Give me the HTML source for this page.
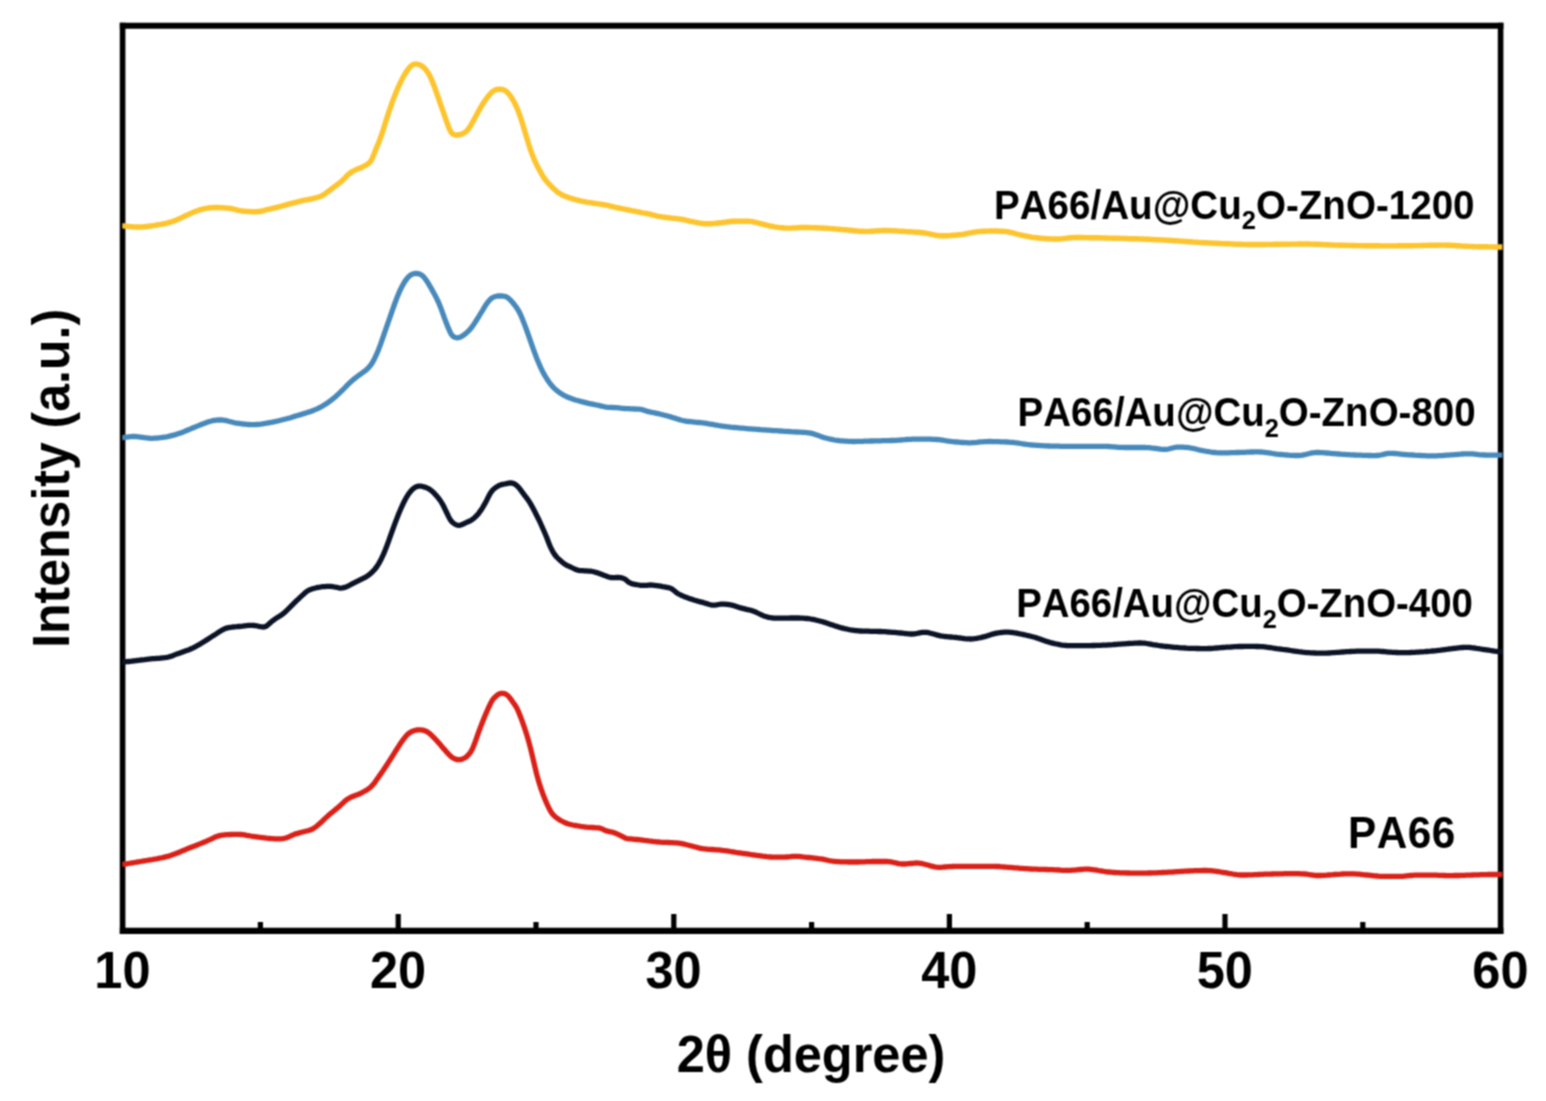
<!DOCTYPE html>
<html lang="en"><head><meta charset="utf-8">
<style>html,body{margin:0;padding:0;background:#fff;}body{width:1546px;height:1101px;overflow:hidden;}svg{display:block;}text{font-family:"Liberation Sans",sans-serif;font-weight:bold;fill:#000;font-kerning:none;}</style></head><body>
<svg width="1546" height="1101" viewBox="0 0 1546 1101">
<defs><filter id="soft" x="0" y="0" width="1546" height="1101" filterUnits="userSpaceOnUse" color-interpolation-filters="sRGB"><feConvolveMatrix order="3" kernelMatrix="1 2 1 2 4 2 1 2 1" divisor="16" edgeMode="duplicate" preserveAlpha="true"/></filter></defs>
<g filter="url(#soft)">
<rect width="1546" height="1101" fill="#fff"/>
<clipPath id="c"><rect x="122.3" y="25.8" width="1380.0" height="905.1"/></clipPath>
<path d="M260.4,930.9V922.0M398.2,930.9V914.0M536.0,930.9V922.0M673.8,930.9V914.0M811.6,930.9V922.0M949.4,930.9V914.0M1087.2,930.9V922.0M1225.0,930.9V914.0M1362.8,930.9V922.0" stroke="#000" stroke-width="5.2" fill="none"/>
<path d="M119.80,25.8H1503.40M119.80,930.9H1503.40" fill="none" stroke="#000" stroke-width="6.1"/>
<path d="M122.6,22.75V933.95M1500.6,22.75V933.95" fill="none" stroke="#000" stroke-width="5.6"/>
<g clip-path="url(#c)" fill="none" stroke-linejoin="round" stroke-linecap="butt">
<path d="M118.6,864.4L120.6,864.3L122.6,864.2L124.6,864.1L126.6,863.8L128.6,863.5L130.6,863.2L132.6,862.8L134.6,862.5L136.6,862.2L138.6,861.8L140.6,861.5L142.6,861.2L144.6,860.8L146.6,860.5L148.6,860.2L150.6,859.8L152.6,859.5L154.6,859.1L156.6,858.8L158.6,858.4L160.6,858.0L162.6,857.6L164.6,857.1L166.6,856.6L168.6,856.1L170.6,855.5L172.6,854.8L174.6,854.1L176.6,853.3L178.6,852.5L180.6,851.6L182.6,850.8L184.6,850.0L186.6,849.1L188.6,848.3L190.6,847.5L192.6,846.7L194.6,846.0L196.6,845.2L198.6,844.4L200.6,843.6L202.6,842.8L204.6,842.0L206.6,841.1L208.6,840.2L210.6,839.3L212.6,838.3L214.6,837.3L216.6,836.5L218.6,835.9L220.6,835.4L222.6,835.1L224.6,834.8L226.6,834.7L228.6,834.6L230.6,834.5L232.6,834.4L234.6,834.4L236.6,834.4L238.6,834.4L240.6,834.5L242.6,834.7L244.6,834.9L246.6,835.3L248.6,835.6L250.6,836.0L252.6,836.3L254.6,836.6L256.6,836.9L258.6,837.2L260.6,837.4L262.6,837.6L264.6,837.8L266.6,838.1L268.6,838.3L270.6,838.5L272.6,838.6L274.6,838.8L276.6,838.9L278.6,838.9L280.6,838.8L282.6,838.6L284.6,838.3L286.6,837.7L288.6,837.0L290.6,836.0L292.6,835.1L294.6,834.3L296.6,833.6L298.6,833.1L300.6,832.5L302.6,832.0L304.6,831.5L306.6,831.0L308.6,830.5L310.6,829.9L312.6,829.0L314.6,827.8L316.6,826.2L318.6,824.5L320.6,822.8L322.6,820.8L324.6,818.9L326.6,817.1L328.6,815.3L330.6,813.6L332.6,811.9L334.6,810.2L336.6,808.6L338.6,807.0L340.6,805.2L342.6,803.3L344.6,801.4L346.6,799.8L348.6,798.5L350.6,797.4L352.6,796.5L354.6,795.7L356.6,795.0L358.6,794.3L360.6,793.3L362.6,792.3L364.6,791.2L366.6,790.1L368.6,788.8L370.6,787.2L372.6,785.1L374.6,782.7L376.6,779.8L378.6,776.9L380.6,774.1L382.6,771.3L384.6,768.3L386.6,765.2L388.6,762.1L390.6,759.0L392.6,755.9L394.6,752.7L396.6,749.5L398.6,746.4L400.6,743.3L402.6,740.4L404.6,737.9L406.6,735.4L408.6,733.5L410.6,732.2L412.6,731.2L414.6,730.5L416.6,730.0L418.6,729.8L420.6,729.8L422.6,730.1L424.6,730.6L426.6,731.5L428.6,732.8L430.6,734.4L432.6,736.3L434.6,738.3L436.6,740.5L438.6,742.8L440.6,745.1L442.6,747.4L444.6,749.6L446.6,751.9L448.6,754.1L450.6,756.1L452.6,757.7L454.6,758.8L456.6,759.5L458.6,759.7L460.6,759.6L462.6,759.0L464.6,758.0L466.6,756.7L468.6,754.7L470.6,752.1L472.6,748.5L474.6,743.6L476.6,737.9L478.6,732.2L480.6,726.9L482.6,721.8L484.6,716.8L486.6,712.0L488.6,707.5L490.6,703.3L492.6,699.8L494.6,697.5L496.6,695.7L498.6,694.2L500.6,693.4L502.6,693.3L504.6,693.6L506.6,694.6L508.6,696.4L510.6,698.9L512.6,701.7L514.6,704.5L516.6,707.7L518.6,711.9L520.6,716.9L522.6,722.3L524.6,728.1L526.6,734.3L528.6,741.1L530.6,748.6L532.6,756.8L534.6,765.5L536.6,773.9L538.6,781.1L540.6,787.5L542.6,793.2L544.6,798.4L546.6,803.1L548.6,807.5L550.6,811.3L552.6,814.2L554.6,816.2L556.6,817.8L558.6,819.2L560.6,820.5L562.6,821.5L564.6,822.5L566.6,823.4L568.6,824.0L570.6,824.5L572.6,825.0L574.6,825.3L576.6,825.7L578.6,826.0L580.6,826.4L582.6,826.7L584.6,827.0L586.6,827.2L588.6,827.3L590.6,827.4L592.6,827.5L594.6,827.6L596.6,827.8L598.6,827.9L600.6,828.3L602.6,829.2L604.6,830.2L606.6,830.9L608.6,831.4L610.6,831.8L612.6,832.3L614.6,832.9L616.6,833.7L618.6,834.6L620.6,835.6L622.6,836.6L624.6,837.7L626.6,838.5L628.6,838.8L630.6,838.9L632.6,839.1L634.6,839.3L636.6,839.5L638.6,839.7L640.6,839.9L642.6,840.1L644.6,840.4L646.6,840.6L648.6,840.9L650.6,841.1L652.6,841.4L654.6,841.6L656.6,841.9L658.6,842.0L660.6,842.2L662.6,842.3L664.6,842.4L666.6,842.4L668.6,842.5L670.6,842.6L672.6,842.7L674.6,842.8L676.6,842.9L678.6,843.1L680.6,843.4L682.6,843.8L684.6,844.2L686.6,844.7L688.6,845.2L690.6,845.7L692.6,846.2L694.6,846.8L696.6,847.3L698.6,847.9L700.6,848.3L702.6,848.7L704.6,848.9L706.6,849.1L708.6,849.3L710.6,849.4L712.6,849.5L714.6,849.6L716.6,849.8L718.6,849.9L720.6,850.1L722.6,850.4L724.6,850.6L726.6,850.9L728.6,851.2L730.6,851.5L732.6,851.8L734.6,852.2L736.6,852.5L738.6,852.8L740.6,853.0L742.6,853.3L744.6,853.6L746.6,853.9L748.6,854.2L750.6,854.5L752.6,854.8L754.6,855.0L756.6,855.3L758.6,855.6L760.6,855.9L762.6,856.2L764.6,856.4L766.6,856.7L768.6,856.9L770.6,857.0L772.6,857.1L774.6,857.1L776.6,857.1L778.6,857.1L780.6,857.1L782.6,857.1L784.6,857.1L786.6,857.0L788.6,856.9L790.6,856.7L792.6,856.4L794.6,856.3L796.6,856.3L798.6,856.4L800.6,856.6L802.6,856.9L804.6,857.1L806.6,857.3L808.6,857.5L810.6,857.7L812.6,857.9L814.6,858.1L816.6,858.3L818.6,858.6L820.6,858.8L822.6,859.2L824.6,859.6L826.6,860.0L828.6,860.5L830.6,860.9L832.6,861.2L834.6,861.4L836.6,861.6L838.6,861.7L840.6,861.8L842.6,861.8L844.6,861.9L846.6,861.9L848.6,862.0L850.6,862.0L852.6,862.0L854.6,862.0L856.6,862.0L858.6,862.0L860.6,861.9L862.6,861.8L864.6,861.8L866.6,861.7L868.6,861.6L870.6,861.6L872.6,861.5L874.6,861.5L876.6,861.5L878.6,861.5L880.6,861.5L882.6,861.5L884.6,861.5L886.6,861.5L888.6,861.6L890.6,861.9L892.6,862.2L894.6,862.7L896.6,863.1L898.6,863.6L900.6,863.9L902.6,864.0L904.6,864.0L906.6,863.9L908.6,863.7L910.6,863.5L912.6,863.3L914.6,863.1L916.6,863.0L918.6,863.1L920.6,863.3L922.6,863.7L924.6,864.2L926.6,864.7L928.6,865.3L930.6,865.9L932.6,866.4L934.6,866.9L936.6,867.2L938.6,867.3L940.6,867.3L942.6,867.2L944.6,867.0L946.6,866.9L948.6,866.7L950.6,866.6L952.6,866.5L954.6,866.4L956.6,866.4L958.6,866.4L960.6,866.4L962.6,866.4L964.6,866.4L966.6,866.4L968.6,866.4L970.6,866.4L972.6,866.4L974.6,866.4L976.6,866.4L978.6,866.4L980.6,866.4L982.6,866.4L984.6,866.4L986.6,866.4L988.6,866.4L990.6,866.4L992.6,866.4L994.6,866.4L996.6,866.5L998.6,866.5L1000.6,866.7L1002.6,866.8L1004.6,867.0L1006.6,867.1L1008.6,867.3L1010.6,867.4L1012.6,867.6L1014.6,867.8L1016.6,867.9L1018.6,868.1L1020.6,868.3L1022.6,868.4L1024.6,868.6L1026.6,868.7L1028.6,868.9L1030.6,869.0L1032.6,869.1L1034.6,869.2L1036.6,869.2L1038.6,869.3L1040.6,869.3L1042.6,869.4L1044.6,869.4L1046.6,869.5L1048.6,869.6L1050.6,869.6L1052.6,869.7L1054.6,869.8L1056.6,869.9L1058.6,870.0L1060.6,870.2L1062.6,870.3L1064.6,870.4L1066.6,870.4L1068.6,870.4L1070.6,870.3L1072.6,870.2L1074.6,870.1L1076.6,869.9L1078.6,869.7L1080.6,869.5L1082.6,869.3L1084.6,869.2L1086.6,869.2L1088.6,869.2L1090.6,869.4L1092.6,869.6L1094.6,869.8L1096.6,870.1L1098.6,870.5L1100.6,870.8L1102.6,871.2L1104.6,871.5L1106.6,871.8L1108.6,872.0L1110.6,872.2L1112.6,872.4L1114.6,872.5L1116.6,872.6L1118.6,872.7L1120.6,872.8L1122.6,872.8L1124.6,872.9L1126.6,873.0L1128.6,873.0L1130.6,873.1L1132.6,873.1L1134.6,873.1L1136.6,873.2L1138.6,873.2L1140.6,873.2L1142.6,873.1L1144.6,873.1L1146.6,873.1L1148.6,873.0L1150.6,873.0L1152.6,872.9L1154.6,872.8L1156.6,872.8L1158.6,872.7L1160.6,872.6L1162.6,872.5L1164.6,872.4L1166.6,872.3L1168.6,872.2L1170.6,872.1L1172.6,872.0L1174.6,871.8L1176.6,871.7L1178.6,871.6L1180.6,871.4L1182.6,871.3L1184.6,871.2L1186.6,871.1L1188.6,871.0L1190.6,870.9L1192.6,870.8L1194.6,870.7L1196.6,870.7L1198.6,870.6L1200.6,870.6L1202.6,870.5L1204.6,870.5L1206.6,870.5L1208.6,870.6L1210.6,870.7L1212.6,870.9L1214.6,871.1L1216.6,871.4L1218.6,871.7L1220.6,872.0L1222.6,872.3L1224.6,872.6L1226.6,872.9L1228.6,873.3L1230.6,873.6L1232.6,874.0L1234.6,874.3L1236.6,874.6L1238.6,874.8L1240.6,875.0L1242.6,875.0L1244.6,875.0L1246.6,875.0L1248.6,874.9L1250.6,874.9L1252.6,874.8L1254.6,874.7L1256.6,874.6L1258.6,874.5L1260.6,874.4L1262.6,874.3L1264.6,874.2L1266.6,874.2L1268.6,874.1L1270.6,874.1L1272.6,874.0L1274.6,873.9L1276.6,873.9L1278.6,873.8L1280.6,873.8L1282.6,873.8L1284.6,873.7L1286.6,873.7L1288.6,873.7L1290.6,873.7L1292.6,873.7L1294.6,873.7L1296.6,873.7L1298.6,873.7L1300.6,873.8L1302.6,873.8L1304.6,874.0L1306.6,874.2L1308.6,874.5L1310.6,874.8L1312.6,875.0L1314.6,875.3L1316.6,875.5L1318.6,875.5L1320.6,875.5L1322.6,875.4L1324.6,875.3L1326.6,875.2L1328.6,875.0L1330.6,874.8L1332.6,874.7L1334.6,874.5L1336.6,874.4L1338.6,874.3L1340.6,874.2L1342.6,874.0L1344.6,873.9L1346.6,873.8L1348.6,873.8L1350.6,873.8L1352.6,873.8L1354.6,873.9L1356.6,874.1L1358.6,874.2L1360.6,874.4L1362.6,874.6L1364.6,874.8L1366.6,875.0L1368.6,875.2L1370.6,875.4L1372.6,875.6L1374.6,875.8L1376.6,876.0L1378.6,876.2L1380.6,876.3L1382.6,876.4L1384.6,876.4L1386.6,876.4L1388.6,876.4L1390.6,876.4L1392.6,876.4L1394.6,876.4L1396.6,876.4L1398.6,876.4L1400.6,876.4L1402.6,876.3L1404.6,876.1L1406.6,875.9L1408.6,875.7L1410.6,875.5L1412.6,875.3L1414.6,875.2L1416.6,875.1L1418.6,875.1L1420.6,875.1L1422.6,875.1L1424.6,875.1L1426.6,875.1L1428.6,875.1L1430.6,875.1L1432.6,875.1L1434.6,875.1L1436.6,875.2L1438.6,875.3L1440.6,875.4L1442.6,875.4L1444.6,875.5L1446.6,875.6L1448.6,875.6L1450.6,875.6L1452.6,875.6L1454.6,875.5L1456.6,875.5L1458.6,875.5L1460.6,875.4L1462.6,875.3L1464.6,875.3L1466.6,875.2L1468.6,875.1L1470.6,875.1L1472.6,875.0L1474.6,874.9L1476.6,874.8L1478.6,874.8L1480.6,874.7L1482.6,874.6L1484.6,874.6L1486.6,874.6L1488.6,874.5L1490.6,874.5L1492.6,874.5L1494.6,874.5L1496.6,874.5L1498.6,874.5L1500.6,874.5L1502.6,874.5L1504.6,874.5" stroke="#DA2017" stroke-width="5.3"/>
<path d="M118.6,662.1L120.6,662.1L122.6,662.0L124.6,661.9L126.6,661.7L128.6,661.5L130.6,661.3L132.6,661.0L134.6,660.8L136.6,660.5L138.6,660.3L140.6,660.0L142.6,659.8L144.6,659.6L146.6,659.3L148.6,659.1L150.6,658.9L152.6,658.7L154.6,658.6L156.6,658.4L158.6,658.3L160.6,658.1L162.6,657.9L164.6,657.7L166.6,657.4L168.6,657.0L170.6,656.4L172.6,655.7L174.6,654.9L176.6,654.1L178.6,653.4L180.6,652.7L182.6,652.0L184.6,651.3L186.6,650.6L188.6,649.9L190.6,649.0L192.6,648.1L194.6,647.1L196.6,646.0L198.6,644.9L200.6,643.7L202.6,642.5L204.6,641.3L206.6,640.0L208.6,638.7L210.6,637.4L212.6,636.1L214.6,634.9L216.6,633.6L218.6,632.2L220.6,631.0L222.6,629.8L224.6,628.8L226.6,628.1L228.6,627.6L230.6,627.3L232.6,627.0L234.6,626.8L236.6,626.7L238.6,626.5L240.6,626.3L242.6,626.1L244.6,625.8L246.6,625.6L248.6,625.4L250.6,625.3L252.6,625.3L254.6,625.5L256.6,625.8L258.6,626.3L260.6,626.7L262.6,627.0L264.6,626.9L266.6,626.0L268.6,624.3L270.6,622.5L272.6,620.8L274.6,619.3L276.6,617.9L278.6,616.7L280.6,615.5L282.6,614.1L284.6,612.5L286.6,610.6L288.6,608.7L290.6,606.7L292.6,604.7L294.6,602.7L296.6,600.7L298.6,598.8L300.6,596.9L302.6,595.1L304.6,593.3L306.6,591.6L308.6,590.3L310.6,589.4L312.6,588.7L314.6,588.2L316.6,587.7L318.6,587.3L320.6,587.0L322.6,586.7L324.6,586.6L326.6,586.4L328.6,586.4L330.6,586.4L332.6,586.7L334.6,587.0L336.6,587.3L338.6,587.8L340.6,588.1L342.6,587.9L344.6,587.4L346.6,586.7L348.6,585.8L350.6,584.7L352.6,583.7L354.6,582.7L356.6,581.7L358.6,580.7L360.6,579.7L362.6,578.7L364.6,577.7L366.6,576.5L368.6,575.1L370.6,573.5L372.6,571.6L374.6,569.5L376.6,567.0L378.6,563.9L380.6,560.3L382.6,556.2L384.6,551.6L386.6,546.5L388.6,541.1L390.6,535.4L392.6,529.8L394.6,524.3L396.6,519.1L398.6,514.0L400.6,509.3L402.6,504.8L404.6,500.8L406.6,497.1L408.6,493.9L410.6,491.3L412.6,489.2L414.6,487.6L416.6,486.6L418.6,486.1L420.6,486.1L422.6,486.5L424.6,487.1L426.6,487.8L428.6,488.7L430.6,490.0L432.6,491.7L434.6,493.7L436.6,495.9L438.6,498.3L440.6,501.0L442.6,504.3L444.6,508.3L446.6,512.5L448.6,516.7L450.6,520.2L452.6,522.5L454.6,524.0L456.6,525.0L458.6,525.4L460.6,525.1L462.6,524.3L464.6,523.3L466.6,522.4L468.6,521.5L470.6,520.6L472.6,519.3L474.6,517.7L476.6,515.7L478.6,513.4L480.6,510.7L482.6,507.6L484.6,504.2L486.6,500.4L488.6,496.4L490.6,492.8L492.6,490.2L494.6,488.3L496.6,486.9L498.6,485.7L500.6,484.9L502.6,484.4L504.6,484.0L506.6,483.6L508.6,483.2L510.6,482.9L512.6,483.1L514.6,484.0L516.6,485.4L518.6,487.4L520.6,489.9L522.6,492.7L524.6,495.3L526.6,497.9L528.6,500.7L530.6,503.9L532.6,507.5L534.6,511.3L536.6,515.2L538.6,519.2L540.6,523.5L542.6,528.0L544.6,532.5L546.6,537.2L548.6,542.5L550.6,547.4L552.6,551.3L554.6,554.5L556.6,557.0L558.6,559.0L560.6,560.7L562.6,562.4L564.6,564.1L566.6,565.3L568.6,566.1L570.6,567.0L572.6,568.0L574.6,569.0L576.6,569.8L578.6,570.4L580.6,570.6L582.6,570.7L584.6,570.8L586.6,570.9L588.6,571.1L590.6,571.2L592.6,571.5L594.6,572.0L596.6,572.6L598.6,573.3L600.6,574.0L602.6,574.8L604.6,575.6L606.6,576.3L608.6,577.0L610.6,577.5L612.6,577.7L614.6,577.6L616.6,577.5L618.6,577.5L620.6,577.7L622.6,578.1L624.6,578.9L626.6,580.4L628.6,582.2L630.6,583.2L632.6,583.9L634.6,584.3L636.6,584.7L638.6,585.0L640.6,585.3L642.6,585.4L644.6,585.4L646.6,585.3L648.6,585.1L650.6,585.0L652.6,585.1L654.6,585.3L656.6,585.6L658.6,585.9L660.6,586.2L662.6,586.6L664.6,586.9L666.6,587.3L668.6,587.7L670.6,588.3L672.6,589.4L674.6,591.1L676.6,592.8L678.6,594.0L680.6,595.0L682.6,595.9L684.6,596.7L686.6,597.4L688.6,598.2L690.6,598.9L692.6,599.5L694.6,600.2L696.6,600.8L698.6,601.4L700.6,601.9L702.6,602.4L704.6,603.0L706.6,603.6L708.6,604.3L710.6,604.8L712.6,605.1L714.6,605.1L716.6,604.9L718.6,604.5L720.6,604.2L722.6,604.1L724.6,604.1L726.6,604.3L728.6,604.5L730.6,604.9L732.6,605.3L734.6,605.9L736.6,606.6L738.6,607.2L740.6,607.9L742.6,608.4L744.6,608.9L746.6,609.4L748.6,609.8L750.6,610.3L752.6,610.9L754.6,611.6L756.6,612.5L758.6,613.5L760.6,614.5L762.6,615.4L764.6,616.2L766.6,616.8L768.6,617.4L770.6,617.7L772.6,618.0L774.6,618.1L776.6,618.1L778.6,618.1L780.6,618.1L782.6,618.1L784.6,618.1L786.6,618.1L788.6,618.1L790.6,618.0L792.6,618.0L794.6,618.0L796.6,618.0L798.6,618.0L800.6,618.1L802.6,618.2L804.6,618.3L806.6,618.5L808.6,618.7L810.6,619.0L812.6,619.3L814.6,619.7L816.6,620.2L818.6,620.7L820.6,621.2L822.6,621.8L824.6,622.4L826.6,623.0L828.6,623.7L830.6,624.4L832.6,625.1L834.6,625.8L836.6,626.4L838.6,627.0L840.6,627.6L842.6,628.1L844.6,628.6L846.6,629.0L848.6,629.5L850.6,629.9L852.6,630.2L854.6,630.5L856.6,630.7L858.6,630.9L860.6,631.0L862.6,631.1L864.6,631.1L866.6,631.2L868.6,631.2L870.6,631.3L872.6,631.3L874.6,631.3L876.6,631.4L878.6,631.5L880.6,631.5L882.6,631.6L884.6,631.7L886.6,631.8L888.6,632.0L890.6,632.1L892.6,632.3L894.6,632.4L896.6,632.6L898.6,632.8L900.6,633.0L902.6,633.2L904.6,633.5L906.6,633.7L908.6,633.9L910.6,634.0L912.6,634.0L914.6,633.9L916.6,633.5L918.6,633.1L920.6,632.7L922.6,632.4L924.6,632.3L926.6,632.4L928.6,632.7L930.6,633.2L932.6,633.7L934.6,634.3L936.6,634.9L938.6,635.4L940.6,635.9L942.6,636.2L944.6,636.5L946.6,636.7L948.6,636.9L950.6,637.0L952.6,637.2L954.6,637.3L956.6,637.5L958.6,637.8L960.6,638.0L962.6,638.3L964.6,638.6L966.6,638.8L968.6,638.9L970.6,639.0L972.6,638.9L974.6,638.7L976.6,638.4L978.6,638.0L980.6,637.6L982.6,637.1L984.6,636.6L986.6,636.1L988.6,635.4L990.6,634.8L992.6,634.1L994.6,633.6L996.6,633.1L998.6,632.8L1000.6,632.5L1002.6,632.4L1004.6,632.2L1006.6,632.2L1008.6,632.2L1010.6,632.3L1012.6,632.5L1014.6,632.8L1016.6,633.2L1018.6,633.6L1020.6,634.0L1022.6,634.4L1024.6,634.8L1026.6,635.3L1028.6,635.7L1030.6,636.2L1032.6,636.8L1034.6,637.3L1036.6,637.9L1038.6,638.6L1040.6,639.2L1042.6,640.0L1044.6,640.7L1046.6,641.4L1048.6,642.0L1050.6,642.6L1052.6,643.1L1054.6,643.6L1056.6,644.0L1058.6,644.4L1060.6,644.8L1062.6,645.1L1064.6,645.3L1066.6,645.5L1068.6,645.6L1070.6,645.6L1072.6,645.6L1074.6,645.6L1076.6,645.6L1078.6,645.6L1080.6,645.6L1082.6,645.6L1084.6,645.6L1086.6,645.6L1088.6,645.6L1090.6,645.6L1092.6,645.5L1094.6,645.5L1096.6,645.4L1098.6,645.4L1100.6,645.3L1102.6,645.2L1104.6,645.1L1106.6,645.1L1108.6,644.9L1110.6,644.8L1112.6,644.7L1114.6,644.5L1116.6,644.4L1118.6,644.2L1120.6,644.1L1122.6,643.9L1124.6,643.8L1126.6,643.6L1128.6,643.5L1130.6,643.4L1132.6,643.3L1134.6,643.2L1136.6,643.1L1138.6,643.0L1140.6,643.0L1142.6,643.1L1144.6,643.2L1146.6,643.5L1148.6,643.8L1150.6,644.2L1152.6,644.6L1154.6,644.9L1156.6,645.2L1158.6,645.5L1160.6,645.8L1162.6,646.0L1164.6,646.3L1166.6,646.5L1168.6,646.7L1170.6,646.9L1172.6,647.1L1174.6,647.3L1176.6,647.4L1178.6,647.6L1180.6,647.8L1182.6,647.9L1184.6,648.0L1186.6,648.2L1188.6,648.3L1190.6,648.3L1192.6,648.4L1194.6,648.4L1196.6,648.5L1198.6,648.5L1200.6,648.6L1202.6,648.6L1204.6,648.6L1206.6,648.6L1208.6,648.5L1210.6,648.5L1212.6,648.4L1214.6,648.2L1216.6,648.0L1218.6,647.9L1220.6,647.7L1222.6,647.5L1224.6,647.4L1226.6,647.2L1228.6,647.1L1230.6,647.0L1232.6,646.8L1234.6,646.7L1236.6,646.6L1238.6,646.5L1240.6,646.5L1242.6,646.5L1244.6,646.4L1246.6,646.4L1248.6,646.4L1250.6,646.4L1252.6,646.4L1254.6,646.4L1256.6,646.5L1258.6,646.5L1260.6,646.6L1262.6,646.7L1264.6,646.9L1266.6,647.2L1268.6,647.5L1270.6,647.7L1272.6,648.0L1274.6,648.3L1276.6,648.6L1278.6,648.8L1280.6,649.1L1282.6,649.4L1284.6,649.6L1286.6,649.9L1288.6,650.2L1290.6,650.5L1292.6,650.8L1294.6,651.1L1296.6,651.4L1298.6,651.7L1300.6,651.9L1302.6,652.2L1304.6,652.4L1306.6,652.6L1308.6,652.7L1310.6,652.8L1312.6,652.9L1314.6,653.0L1316.6,653.1L1318.6,653.1L1320.6,653.2L1322.6,653.2L1324.6,653.2L1326.6,653.1L1328.6,653.0L1330.6,652.9L1332.6,652.7L1334.6,652.6L1336.6,652.4L1338.6,652.3L1340.6,652.1L1342.6,652.0L1344.6,651.9L1346.6,651.7L1348.6,651.6L1350.6,651.5L1352.6,651.4L1354.6,651.3L1356.6,651.2L1358.6,651.1L1360.6,651.1L1362.6,651.1L1364.6,651.1L1366.6,651.1L1368.6,651.1L1370.6,651.1L1372.6,651.1L1374.6,651.1L1376.6,651.1L1378.6,651.2L1380.6,651.3L1382.6,651.5L1384.6,651.7L1386.6,651.9L1388.6,652.1L1390.6,652.2L1392.6,652.3L1394.6,652.4L1396.6,652.5L1398.6,652.6L1400.6,652.6L1402.6,652.6L1404.6,652.7L1406.6,652.6L1408.6,652.6L1410.6,652.5L1412.6,652.4L1414.6,652.3L1416.6,652.2L1418.6,652.1L1420.6,651.9L1422.6,651.8L1424.6,651.7L1426.6,651.5L1428.6,651.3L1430.6,651.2L1432.6,651.0L1434.6,650.8L1436.6,650.6L1438.6,650.4L1440.6,650.2L1442.6,649.9L1444.6,649.6L1446.6,649.3L1448.6,649.0L1450.6,648.8L1452.6,648.5L1454.6,648.3L1456.6,648.1L1458.6,647.9L1460.6,647.7L1462.6,647.5L1464.6,647.4L1466.6,647.4L1468.6,647.4L1470.6,647.5L1472.6,647.8L1474.6,648.0L1476.6,648.4L1478.6,648.7L1480.6,649.0L1482.6,649.3L1484.6,649.6L1486.6,649.9L1488.6,650.2L1490.6,650.5L1492.6,650.8L1494.6,651.1L1496.6,651.3L1498.6,651.6L1500.6,651.7L1502.6,651.8L1504.6,651.9" stroke="#0B1326" stroke-width="5.3"/>
<path d="M118.6,437.6L120.6,437.6L122.6,437.5L124.6,437.3L126.6,437.1L128.6,436.8L130.6,436.6L132.6,436.5L134.6,436.5L136.6,436.6L138.6,436.8L140.6,437.1L142.6,437.4L144.6,437.7L146.6,437.9L148.6,438.1L150.6,438.3L152.6,438.3L154.6,438.2L156.6,438.1L158.6,437.9L160.6,437.7L162.6,437.4L164.6,437.1L166.6,436.8L168.6,436.4L170.6,435.9L172.6,435.4L174.6,434.9L176.6,434.3L178.6,433.6L180.6,432.9L182.6,432.2L184.6,431.4L186.6,430.5L188.6,429.7L190.6,428.9L192.6,428.0L194.6,427.2L196.6,426.4L198.6,425.6L200.6,424.8L202.6,424.0L204.6,423.3L206.6,422.5L208.6,421.8L210.6,421.2L212.6,420.7L214.6,420.3L216.6,420.1L218.6,420.0L220.6,419.9L222.6,420.0L224.6,420.3L226.6,420.7L228.6,421.3L230.6,421.8L232.6,422.3L234.6,422.8L236.6,423.1L238.6,423.4L240.6,423.7L242.6,424.0L244.6,424.2L246.6,424.4L248.6,424.5L250.6,424.6L252.6,424.6L254.6,424.6L256.6,424.5L258.6,424.4L260.6,424.2L262.6,423.9L264.6,423.5L266.6,423.2L268.6,422.8L270.6,422.4L272.6,422.1L274.6,421.7L276.6,421.2L278.6,420.8L280.6,420.3L282.6,419.8L284.6,419.3L286.6,418.8L288.6,418.2L290.6,417.7L292.6,417.0L294.6,416.4L296.6,415.8L298.6,415.2L300.6,414.6L302.6,414.0L304.6,413.4L306.6,412.8L308.6,412.1L310.6,411.5L312.6,410.7L314.6,409.9L316.6,409.1L318.6,408.1L320.6,407.1L322.6,406.0L324.6,404.8L326.6,403.5L328.6,402.1L330.6,400.6L332.6,399.1L334.6,397.4L336.6,395.7L338.6,393.8L340.6,391.9L342.6,390.0L344.6,388.0L346.6,385.9L348.6,383.9L350.6,382.0L352.6,380.3L354.6,378.6L356.6,377.0L358.6,375.5L360.6,374.1L362.6,372.7L364.6,371.2L366.6,369.6L368.6,367.6L370.6,365.3L372.6,362.3L374.6,358.5L376.6,354.2L378.6,349.4L380.6,344.1L382.6,338.4L384.6,332.7L386.6,326.9L388.6,321.2L390.6,315.4L392.6,309.7L394.6,304.0L396.6,298.6L398.6,293.7L400.6,289.2L402.6,285.3L404.6,281.9L406.6,279.1L408.6,276.8L410.6,275.1L412.6,274.0L414.6,273.5L416.6,273.5L418.6,273.7L420.6,274.4L422.6,275.8L424.6,278.0L426.6,280.8L428.6,283.9L430.6,287.3L432.6,290.9L434.6,294.5L436.6,298.3L438.6,302.5L440.6,307.4L442.6,312.9L444.6,318.5L446.6,323.7L448.6,328.7L450.6,333.2L452.6,336.0L454.6,337.3L456.6,337.8L458.6,337.6L460.6,337.0L462.6,335.9L464.6,334.4L466.6,332.7L468.6,330.9L470.6,328.7L472.6,326.1L474.6,323.1L476.6,320.0L478.6,316.8L480.6,313.5L482.6,310.3L484.6,306.9L486.6,303.8L488.6,301.2L490.6,299.0L492.6,297.6L494.6,296.7L496.6,296.2L498.6,296.0L500.6,295.8L502.6,296.0L504.6,296.3L506.6,297.0L508.6,298.4L510.6,300.2L512.6,302.5L514.6,305.0L516.6,307.7L518.6,310.8L520.6,314.7L522.6,319.5L524.6,324.6L526.6,330.0L528.6,335.7L530.6,341.4L532.6,347.1L534.6,352.6L536.6,357.9L538.6,362.8L540.6,367.4L542.6,371.5L544.6,375.2L546.6,378.5L548.6,381.5L550.6,384.3L552.6,386.6L554.6,388.6L556.6,390.4L558.6,391.9L560.6,393.3L562.6,394.6L564.6,395.7L566.6,396.7L568.6,397.5L570.6,398.3L572.6,399.0L574.6,399.7L576.6,400.3L578.6,400.8L580.6,401.4L582.6,401.9L584.6,402.4L586.6,402.9L588.6,403.4L590.6,403.8L592.6,404.2L594.6,404.6L596.6,405.0L598.6,405.4L600.6,405.9L602.6,406.3L604.6,406.8L606.6,407.1L608.6,407.3L610.6,407.4L612.6,407.5L614.6,407.6L616.6,407.7L618.6,407.8L620.6,408.1L622.6,408.3L624.6,408.5L626.6,408.6L628.6,408.7L630.6,408.8L632.6,408.9L634.6,409.0L636.6,409.1L638.6,409.2L640.6,409.4L642.6,409.7L644.6,410.4L646.6,411.1L648.6,411.7L650.6,412.1L652.6,412.5L654.6,412.9L656.6,413.3L658.6,413.7L660.6,414.2L662.6,414.7L664.6,415.2L666.6,415.7L668.6,416.3L670.6,416.9L672.6,417.5L674.6,418.1L676.6,418.8L678.6,419.4L680.6,420.0L682.6,420.5L684.6,420.9L686.6,421.3L688.6,421.5L690.6,421.7L692.6,421.9L694.6,422.1L696.6,422.3L698.6,422.5L700.6,422.7L702.6,422.9L704.6,423.1L706.6,423.4L708.6,423.8L710.6,424.1L712.6,424.4L714.6,424.8L716.6,425.1L718.6,425.5L720.6,425.8L722.6,426.1L724.6,426.3L726.6,426.6L728.6,426.8L730.6,427.1L732.6,427.3L734.6,427.5L736.6,427.7L738.6,427.9L740.6,428.1L742.6,428.2L744.6,428.4L746.6,428.6L748.6,428.8L750.6,428.9L752.6,429.1L754.6,429.2L756.6,429.4L758.6,429.5L760.6,429.7L762.6,429.8L764.6,429.9L766.6,430.1L768.6,430.2L770.6,430.3L772.6,430.5L774.6,430.6L776.6,430.7L778.6,430.9L780.6,431.0L782.6,431.1L784.6,431.3L786.6,431.4L788.6,431.5L790.6,431.6L792.6,431.8L794.6,431.9L796.6,432.0L798.6,432.1L800.6,432.2L802.6,432.3L804.6,432.4L806.6,432.6L808.6,432.8L810.6,433.1L812.6,433.6L814.6,434.2L816.6,434.9L818.6,435.6L820.6,436.4L822.6,437.1L824.6,437.7L826.6,438.2L828.6,438.7L830.6,439.2L832.6,439.6L834.6,440.0L836.6,440.3L838.6,440.5L840.6,440.8L842.6,440.9L844.6,441.1L846.6,441.2L848.6,441.3L850.6,441.4L852.6,441.5L854.6,441.5L856.6,441.4L858.6,441.4L860.6,441.4L862.6,441.3L864.6,441.2L866.6,441.2L868.6,441.1L870.6,441.0L872.6,441.0L874.6,440.9L876.6,440.9L878.6,440.8L880.6,440.8L882.6,440.7L884.6,440.7L886.6,440.6L888.6,440.6L890.6,440.5L892.6,440.5L894.6,440.4L896.6,440.3L898.6,440.1L900.6,440.0L902.6,439.8L904.6,439.7L906.6,439.5L908.6,439.4L910.6,439.3L912.6,439.2L914.6,439.1L916.6,439.1L918.6,439.1L920.6,439.1L922.6,439.1L924.6,439.1L926.6,439.2L928.6,439.2L930.6,439.2L932.6,439.3L934.6,439.4L936.6,439.5L938.6,439.7L940.6,439.9L942.6,440.2L944.6,440.5L946.6,440.9L948.6,441.1L950.6,441.4L952.6,441.6L954.6,441.8L956.6,442.0L958.6,442.2L960.6,442.4L962.6,442.5L964.6,442.6L966.6,442.7L968.6,442.8L970.6,442.8L972.6,442.7L974.6,442.6L976.6,442.4L978.6,442.1L980.6,441.9L982.6,441.8L984.6,441.6L986.6,441.6L988.6,441.5L990.6,441.5L992.6,441.6L994.6,441.6L996.6,441.6L998.6,441.7L1000.6,441.8L1002.6,441.8L1004.6,441.9L1006.6,442.0L1008.6,442.1L1010.6,442.3L1012.6,442.4L1014.6,442.7L1016.6,442.9L1018.6,443.2L1020.6,443.5L1022.6,443.8L1024.6,444.1L1026.6,444.4L1028.6,444.6L1030.6,444.8L1032.6,445.0L1034.6,445.1L1036.6,445.3L1038.6,445.4L1040.6,445.6L1042.6,445.7L1044.6,445.8L1046.6,445.9L1048.6,446.0L1050.6,446.1L1052.6,446.1L1054.6,446.2L1056.6,446.2L1058.6,446.2L1060.6,446.3L1062.6,446.3L1064.6,446.3L1066.6,446.3L1068.6,446.3L1070.6,446.4L1072.6,446.4L1074.6,446.4L1076.6,446.4L1078.6,446.4L1080.6,446.4L1082.6,446.4L1084.6,446.4L1086.6,446.4L1088.6,446.4L1090.6,446.4L1092.6,446.4L1094.6,446.4L1096.6,446.4L1098.6,446.4L1100.6,446.4L1102.6,446.4L1104.6,446.4L1106.6,446.4L1108.6,446.5L1110.6,446.6L1112.6,446.8L1114.6,446.9L1116.6,447.1L1118.6,447.3L1120.6,447.4L1122.6,447.4L1124.6,447.5L1126.6,447.5L1128.6,447.5L1130.6,447.5L1132.6,447.5L1134.6,447.5L1136.6,447.5L1138.6,447.5L1140.6,447.5L1142.6,447.5L1144.6,447.5L1146.6,447.6L1148.6,447.7L1150.6,447.9L1152.6,448.1L1154.6,448.3L1156.6,448.5L1158.6,448.8L1160.6,449.1L1162.6,449.3L1164.6,449.4L1166.6,449.3L1168.6,449.0L1170.6,448.5L1172.6,448.0L1174.6,447.5L1176.6,447.2L1178.6,447.1L1180.6,447.1L1182.6,447.1L1184.6,447.3L1186.6,447.4L1188.6,447.7L1190.6,448.0L1192.6,448.3L1194.6,448.8L1196.6,449.3L1198.6,449.8L1200.6,450.2L1202.6,450.7L1204.6,451.0L1206.6,451.4L1208.6,451.7L1210.6,452.0L1212.6,452.3L1214.6,452.5L1216.6,452.7L1218.6,452.8L1220.6,452.9L1222.6,452.9L1224.6,452.9L1226.6,452.8L1228.6,452.8L1230.6,452.7L1232.6,452.7L1234.6,452.6L1236.6,452.5L1238.6,452.5L1240.6,452.4L1242.6,452.3L1244.6,452.3L1246.6,452.2L1248.6,452.1L1250.6,452.0L1252.6,452.0L1254.6,451.9L1256.6,451.9L1258.6,451.9L1260.6,452.0L1262.6,452.1L1264.6,452.3L1266.6,452.6L1268.6,452.9L1270.6,453.2L1272.6,453.5L1274.6,453.8L1276.6,454.1L1278.6,454.3L1280.6,454.5L1282.6,454.7L1284.6,454.9L1286.6,455.0L1288.6,455.2L1290.6,455.3L1292.6,455.4L1294.6,455.5L1296.6,455.5L1298.6,455.5L1300.6,455.4L1302.6,455.1L1304.6,454.7L1306.6,454.2L1308.6,453.7L1310.6,453.2L1312.6,452.8L1314.6,452.6L1316.6,452.5L1318.6,452.5L1320.6,452.6L1322.6,452.7L1324.6,452.9L1326.6,453.0L1328.6,453.2L1330.6,453.4L1332.6,453.6L1334.6,453.7L1336.6,453.9L1338.6,454.0L1340.6,454.2L1342.6,454.3L1344.6,454.4L1346.6,454.6L1348.6,454.7L1350.6,454.8L1352.6,454.9L1354.6,455.0L1356.6,455.1L1358.6,455.2L1360.6,455.2L1362.6,455.3L1364.6,455.4L1366.6,455.4L1368.6,455.5L1370.6,455.5L1372.6,455.6L1374.6,455.6L1376.6,455.5L1378.6,455.4L1380.6,455.0L1382.6,454.6L1384.6,454.1L1386.6,453.7L1388.6,453.4L1390.6,453.4L1392.6,453.4L1394.6,453.5L1396.6,453.7L1398.6,453.9L1400.6,454.1L1402.6,454.3L1404.6,454.5L1406.6,454.6L1408.6,454.8L1410.6,454.9L1412.6,455.0L1414.6,455.2L1416.6,455.3L1418.6,455.4L1420.6,455.5L1422.6,455.6L1424.6,455.7L1426.6,455.8L1428.6,455.8L1430.6,455.9L1432.6,455.9L1434.6,455.8L1436.6,455.8L1438.6,455.7L1440.6,455.6L1442.6,455.5L1444.6,455.3L1446.6,455.2L1448.6,455.1L1450.6,454.9L1452.6,454.8L1454.6,454.6L1456.6,454.5L1458.6,454.3L1460.6,454.2L1462.6,454.0L1464.6,453.9L1466.6,453.8L1468.6,453.8L1470.6,453.8L1472.6,453.9L1474.6,454.1L1476.6,454.3L1478.6,454.6L1480.6,454.8L1482.6,454.9L1484.6,455.0L1486.6,455.1L1488.6,455.1L1490.6,455.1L1492.6,455.1L1494.6,455.1L1496.6,455.1L1498.6,455.1L1500.6,455.1L1502.6,455.1L1504.6,455.1" stroke="#4889BB" stroke-width="5.3"/>
<path d="M118.6,225.8L120.6,225.8L122.6,225.9L124.6,226.0L126.6,226.2L128.6,226.4L130.6,226.6L132.6,226.8L134.6,226.9L136.6,227.0L138.6,227.0L140.6,227.0L142.6,226.9L144.6,226.7L146.6,226.5L148.6,226.3L150.6,226.0L152.6,225.7L154.6,225.4L156.6,225.0L158.6,224.7L160.6,224.4L162.6,224.0L164.6,223.6L166.6,223.2L168.6,222.7L170.6,222.1L172.6,221.5L174.6,220.7L176.6,219.9L178.6,219.0L180.6,218.1L182.6,217.2L184.6,216.2L186.6,215.3L188.6,214.4L190.6,213.5L192.6,212.6L194.6,211.8L196.6,211.0L198.6,210.3L200.6,209.6L202.6,209.1L204.6,208.7L206.6,208.3L208.6,208.0L210.6,207.7L212.6,207.6L214.6,207.5L216.6,207.5L218.6,207.5L220.6,207.6L222.6,207.7L224.6,207.9L226.6,208.1L228.6,208.3L230.6,208.5L232.6,208.9L234.6,209.3L236.6,209.8L238.6,210.3L240.6,210.7L242.6,211.0L244.6,211.3L246.6,211.4L248.6,211.5L250.6,211.6L252.6,211.7L254.6,211.7L256.6,211.7L258.6,211.5L260.6,211.3L262.6,210.8L264.6,210.3L266.6,209.7L268.6,209.3L270.6,208.8L272.6,208.4L274.6,207.9L276.6,207.4L278.6,207.0L280.6,206.4L282.6,205.9L284.6,205.3L286.6,204.7L288.6,204.2L290.6,203.7L292.6,203.2L294.6,202.7L296.6,202.2L298.6,201.7L300.6,201.2L302.6,200.7L304.6,200.2L306.6,199.8L308.6,199.4L310.6,199.0L312.6,198.6L314.6,198.1L316.6,197.6L318.6,197.0L320.6,196.3L322.6,195.4L324.6,194.2L326.6,192.7L328.6,191.2L330.6,189.7L332.6,188.2L334.6,186.7L336.6,185.2L338.6,183.6L340.6,182.0L342.6,180.3L344.6,178.4L346.6,176.1L348.6,174.1L350.6,172.6L352.6,171.4L354.6,170.4L356.6,169.4L358.6,168.6L360.6,167.7L362.6,166.9L364.6,165.9L366.6,164.8L368.6,163.5L370.6,161.4L372.6,157.5L374.6,152.5L376.6,147.4L378.6,142.7L380.6,137.6L382.6,131.7L384.6,125.2L386.6,118.7L388.6,112.6L390.6,106.8L392.6,101.2L394.6,95.9L396.6,91.0L398.6,86.4L400.6,82.1L402.6,78.1L404.6,74.5L406.6,71.3L408.6,68.6L410.6,66.3L412.6,64.8L414.6,64.1L416.6,64.0L418.6,64.5L420.6,65.3L422.6,66.6L424.6,68.3L426.6,70.7L428.6,73.8L430.6,77.6L432.6,82.2L434.6,87.4L436.6,93.0L438.6,98.7L440.6,104.5L442.6,110.2L444.6,115.9L446.6,121.7L448.6,127.2L450.6,131.6L452.6,133.9L454.6,134.8L456.6,135.0L458.6,134.8L460.6,134.4L462.6,133.7L464.6,132.7L466.6,131.1L468.6,128.7L470.6,125.6L472.6,122.1L474.6,118.5L476.6,114.8L478.6,111.1L480.6,107.5L482.6,104.1L484.6,101.0L486.6,98.3L488.6,95.7L490.6,93.4L492.6,91.5L494.6,90.3L496.6,89.5L498.6,89.2L500.6,89.2L502.6,89.5L504.6,90.3L506.6,91.6L508.6,93.6L510.6,96.2L512.6,99.4L514.6,103.0L516.6,107.2L518.6,112.1L520.6,117.7L522.6,124.0L524.6,130.6L526.6,137.3L528.6,144.0L530.6,150.1L532.6,155.6L534.6,160.5L536.6,164.7L538.6,168.5L540.6,172.1L542.6,175.7L544.6,178.8L546.6,181.3L548.6,183.6L550.6,185.7L552.6,187.7L554.6,189.5L556.6,191.3L558.6,192.8L560.6,194.1L562.6,195.2L564.6,196.1L566.6,196.8L568.6,197.6L570.6,198.2L572.6,198.8L574.6,199.4L576.6,199.9L578.6,200.4L580.6,200.9L582.6,201.3L584.6,201.7L586.6,202.1L588.6,202.4L590.6,202.7L592.6,203.0L594.6,203.3L596.6,203.6L598.6,203.9L600.6,204.2L602.6,204.5L604.6,204.8L606.6,205.2L608.6,205.6L610.6,206.1L612.6,206.7L614.6,207.2L616.6,207.6L618.6,208.0L620.6,208.4L622.6,208.8L624.6,209.2L626.6,209.6L628.6,210.0L630.6,210.4L632.6,210.8L634.6,211.2L636.6,211.6L638.6,212.0L640.6,212.4L642.6,212.8L644.6,213.1L646.6,213.5L648.6,213.8L650.6,214.3L652.6,214.9L654.6,215.4L656.6,215.9L658.6,216.3L660.6,216.6L662.6,217.0L664.6,217.2L666.6,217.5L668.6,217.7L670.6,218.0L672.6,218.2L674.6,218.4L676.6,218.6L678.6,218.9L680.6,219.2L682.6,219.5L684.6,219.9L686.6,220.3L688.6,220.8L690.6,221.3L692.6,221.7L694.6,222.2L696.6,222.5L698.6,222.9L700.6,223.2L702.6,223.5L704.6,223.7L706.6,223.8L708.6,223.8L710.6,223.7L712.6,223.6L714.6,223.4L716.6,223.2L718.6,223.0L720.6,222.8L722.6,222.5L724.6,222.3L726.6,222.0L728.6,221.7L730.6,221.5L732.6,221.3L734.6,221.2L736.6,221.2L738.6,221.2L740.6,221.2L742.6,221.2L744.6,221.2L746.6,221.2L748.6,221.3L750.6,221.4L752.6,221.7L754.6,222.1L756.6,222.6L758.6,223.1L760.6,223.6L762.6,224.1L764.6,224.6L766.6,225.1L768.6,225.6L770.6,226.0L772.6,226.4L774.6,226.8L776.6,227.1L778.6,227.4L780.6,227.6L782.6,227.8L784.6,228.0L786.6,228.1L788.6,228.1L790.6,228.1L792.6,228.0L794.6,227.9L796.6,227.8L798.6,227.6L800.6,227.5L802.6,227.5L804.6,227.5L806.6,227.5L808.6,227.5L810.6,227.6L812.6,227.6L814.6,227.7L816.6,227.8L818.6,227.9L820.6,228.0L822.6,228.0L824.6,228.2L826.6,228.3L828.6,228.4L830.6,228.6L832.6,228.7L834.6,228.9L836.6,229.1L838.6,229.2L840.6,229.4L842.6,229.6L844.6,229.7L846.6,229.9L848.6,230.1L850.6,230.3L852.6,230.5L854.6,230.7L856.6,230.9L858.6,231.1L860.6,231.2L862.6,231.3L864.6,231.4L866.6,231.4L868.6,231.4L870.6,231.3L872.6,231.2L874.6,231.0L876.6,230.9L878.6,230.7L880.6,230.6L882.6,230.5L884.6,230.5L886.6,230.5L888.6,230.5L890.6,230.6L892.6,230.7L894.6,230.8L896.6,230.9L898.6,231.1L900.6,231.2L902.6,231.3L904.6,231.4L906.6,231.6L908.6,231.7L910.6,231.8L912.6,231.9L914.6,232.1L916.6,232.2L918.6,232.3L920.6,232.5L922.6,232.7L924.6,233.0L926.6,233.3L928.6,233.6L930.6,234.1L932.6,234.5L934.6,235.0L936.6,235.3L938.6,235.6L940.6,235.7L942.6,235.8L944.6,235.7L946.6,235.7L948.6,235.6L950.6,235.5L952.6,235.3L954.6,235.2L956.6,235.0L958.6,234.8L960.6,234.6L962.6,234.3L964.6,234.0L966.6,233.6L968.6,233.2L970.6,232.8L972.6,232.4L974.6,232.1L976.6,231.8L978.6,231.6L980.6,231.4L982.6,231.3L984.6,231.2L986.6,231.1L988.6,231.1L990.6,231.0L992.6,231.0L994.6,231.0L996.6,231.0L998.6,231.1L1000.6,231.2L1002.6,231.3L1004.6,231.4L1006.6,231.7L1008.6,232.0L1010.6,232.4L1012.6,232.9L1014.6,233.4L1016.6,234.0L1018.6,234.5L1020.6,235.0L1022.6,235.4L1024.6,235.8L1026.6,236.2L1028.6,236.6L1030.6,237.0L1032.6,237.3L1034.6,237.6L1036.6,237.8L1038.6,238.0L1040.6,238.2L1042.6,238.4L1044.6,238.5L1046.6,238.7L1048.6,238.8L1050.6,238.9L1052.6,239.0L1054.6,239.0L1056.6,239.0L1058.6,239.0L1060.6,238.9L1062.6,238.7L1064.6,238.4L1066.6,238.2L1068.6,237.9L1070.6,237.7L1072.6,237.6L1074.6,237.5L1076.6,237.5L1078.6,237.5L1080.6,237.5L1082.6,237.5L1084.6,237.6L1086.6,237.6L1088.6,237.6L1090.6,237.7L1092.6,237.7L1094.6,237.7L1096.6,237.8L1098.6,237.8L1100.6,237.9L1102.6,237.9L1104.6,238.0L1106.6,238.0L1108.6,238.1L1110.6,238.1L1112.6,238.2L1114.6,238.2L1116.6,238.3L1118.6,238.3L1120.6,238.4L1122.6,238.4L1124.6,238.5L1126.6,238.5L1128.6,238.6L1130.6,238.7L1132.6,238.7L1134.6,238.8L1136.6,238.8L1138.6,238.9L1140.6,239.0L1142.6,239.0L1144.6,239.1L1146.6,239.2L1148.6,239.3L1150.6,239.4L1152.6,239.5L1154.6,239.6L1156.6,239.7L1158.6,239.8L1160.6,239.9L1162.6,240.0L1164.6,240.1L1166.6,240.2L1168.6,240.3L1170.6,240.4L1172.6,240.5L1174.6,240.7L1176.6,240.8L1178.6,240.9L1180.6,241.1L1182.6,241.2L1184.6,241.4L1186.6,241.5L1188.6,241.7L1190.6,241.8L1192.6,242.0L1194.6,242.1L1196.6,242.2L1198.6,242.4L1200.6,242.5L1202.6,242.6L1204.6,242.7L1206.6,242.8L1208.6,242.9L1210.6,243.0L1212.6,243.1L1214.6,243.2L1216.6,243.3L1218.6,243.4L1220.6,243.5L1222.6,243.6L1224.6,243.7L1226.6,243.8L1228.6,243.8L1230.6,243.9L1232.6,244.0L1234.6,244.1L1236.6,244.2L1238.6,244.2L1240.6,244.3L1242.6,244.4L1244.6,244.4L1246.6,244.5L1248.6,244.5L1250.6,244.5L1252.6,244.5L1254.6,244.5L1256.6,244.5L1258.6,244.5L1260.6,244.5L1262.6,244.5L1264.6,244.5L1266.6,244.4L1268.6,244.4L1270.6,244.4L1272.6,244.4L1274.6,244.3L1276.6,244.3L1278.6,244.3L1280.6,244.3L1282.6,244.2L1284.6,244.2L1286.6,244.2L1288.6,244.2L1290.6,244.1L1292.6,244.1L1294.6,244.1L1296.6,244.1L1298.6,244.0L1300.6,244.0L1302.6,244.0L1304.6,244.0L1306.6,244.0L1308.6,244.0L1310.6,244.1L1312.6,244.1L1314.6,244.2L1316.6,244.2L1318.6,244.3L1320.6,244.4L1322.6,244.5L1324.6,244.6L1326.6,244.7L1328.6,244.8L1330.6,244.9L1332.6,245.0L1334.6,245.1L1336.6,245.1L1338.6,245.2L1340.6,245.2L1342.6,245.3L1344.6,245.3L1346.6,245.4L1348.6,245.4L1350.6,245.4L1352.6,245.5L1354.6,245.5L1356.6,245.6L1358.6,245.6L1360.6,245.6L1362.6,245.6L1364.6,245.7L1366.6,245.7L1368.6,245.7L1370.6,245.7L1372.6,245.8L1374.6,245.8L1376.6,245.8L1378.6,245.8L1380.6,245.9L1382.6,245.9L1384.6,245.9L1386.6,245.9L1388.6,245.9L1390.6,245.9L1392.6,245.9L1394.6,245.9L1396.6,245.9L1398.6,245.8L1400.6,245.8L1402.6,245.8L1404.6,245.8L1406.6,245.8L1408.6,245.7L1410.6,245.7L1412.6,245.7L1414.6,245.6L1416.6,245.6L1418.6,245.6L1420.6,245.5L1422.6,245.5L1424.6,245.4L1426.6,245.4L1428.6,245.3L1430.6,245.3L1432.6,245.2L1434.6,245.2L1436.6,245.2L1438.6,245.1L1440.6,245.1L1442.6,245.1L1444.6,245.1L1446.6,245.2L1448.6,245.2L1450.6,245.3L1452.6,245.4L1454.6,245.5L1456.6,245.7L1458.6,245.8L1460.6,245.9L1462.6,246.1L1464.6,246.2L1466.6,246.3L1468.6,246.4L1470.6,246.4L1472.6,246.5L1474.6,246.6L1476.6,246.6L1478.6,246.7L1480.6,246.7L1482.6,246.7L1484.6,246.8L1486.6,246.8L1488.6,246.9L1490.6,246.9L1492.6,246.9L1494.6,246.9L1496.6,247.0L1498.6,247.0L1500.6,247.0L1502.6,247.0L1504.6,247.0" stroke="#FEC42D" stroke-width="5.4"/>
</g>
<text transform="translate(122.4,987.8) scale(1,1.04)" font-size="50.5" text-anchor="middle">10</text>
<text transform="translate(398.0,987.8) scale(1,1.04)" font-size="50.5" text-anchor="middle">20</text>
<text transform="translate(673.6,987.8) scale(1,1.04)" font-size="50.5" text-anchor="middle">30</text>
<text transform="translate(949.2,987.8) scale(1,1.04)" font-size="50.5" text-anchor="middle">40</text>
<text transform="translate(1224.8,987.8) scale(1,1.04)" font-size="50.5" text-anchor="middle">50</text>
<text transform="translate(1500.4,987.8) scale(1,1.04)" font-size="50.5" text-anchor="middle">60</text>
<text transform="translate(811,1072.3) scale(1,1.04)" font-size="50.5" text-anchor="middle">2θ (degree)</text>
<text transform="translate(68.5,478.4) rotate(-90) scale(1,1.04)" font-size="50" text-anchor="middle">Intensity (a.u.)</text>
<text transform="translate(994,218.6) scale(1,1.04)" font-size="38.6">PA66/Au@Cu<tspan font-size="25.5" dy="10.0">2</tspan><tspan dy="-10.0">O-ZnO-1200</tspan></text>
<text transform="translate(1017.6,426.1) scale(1,1.04)" font-size="38.5">PA66/Au@Cu<tspan font-size="25.4" dy="10.0">2</tspan><tspan dy="-10.0">O-ZnO-800</tspan></text>
<text transform="translate(1016.2,617.4) scale(1,1.04)" font-size="38.4">PA66/Au@Cu<tspan font-size="25.3" dy="10.0">2</tspan><tspan dy="-10.0">O-ZnO-400</tspan></text>
<text transform="translate(1348.0,847.7) scale(1,1.04)" font-size="42.3" letter-spacing="0.5">PA66</text>
</g>
</svg></body></html>
